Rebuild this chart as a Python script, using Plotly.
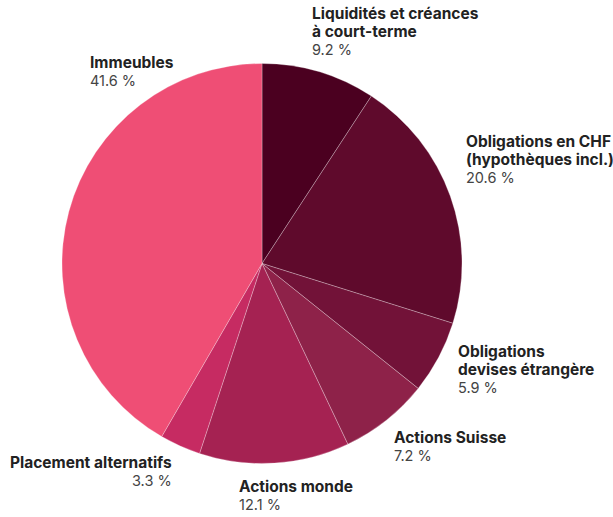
import plotly.graph_objects as go

categories = ["Liquidités et créances<br>à court-terme", "Obligations en CHF<br>(hypothèques incl.)",
              "Obligations<br>devises étrangère", "Actions Suisse", "Actions monde",
              "Placement alternatifs", "Immeubles"]
values = [9.2, 20.6, 5.9, 7.2, 12.1, 3.3, 41.6]
colors = ["#4b0020", "#5f0a2c", "#721238", "#8e2249", "#a52252", "#c62b62", "#ef4e75"]

W, H = 613, 517
# label anchors in pixels: (x of text edge, baseline of first line, alignment)
label_pos = [(311, 19, "left"), (465, 147, "left"), (457, 357, "left"), (393, 443, "left"),
             (238, 492, "left"), (172.5, 468, "right"), (89.5, 68, "left")]
BASE_TO_TOP = 17   # distance from annotation top to first baseline
XPAD = 1.5


def px2paper(x, y):
    return x / W, 1 - y / H


x0, y0 = px2paper(61.5, 463.5)
x1, y1 = px2paper(462.5, 63.5)

fig = go.Figure(go.Pie(
    labels=[c.replace("<br>", " ") for c in categories], values=values, sort=False,
    direction="clockwise", rotation=0, textinfo="none", hoverinfo="label+value",
    marker=dict(colors=colors, line=dict(color="rgba(255,255,255,0.45)", width=0.6)),
    domain=dict(x=[x0, x1], y=[y0, y1]),
    showlegend=False,
))

for cat, val, (px, py, al) in zip(categories, values, label_pos):
    ax, ay = px2paper(px - XPAD if al == "left" else px + XPAD, py - BASE_TO_TOP)
    lines = cat.split("<br>")
    bold = "<br>".join(f"<span style='font-size:15.5px'><b>{l}</b></span>" for l in lines)
    fig.add_annotation(
        x=ax, y=ay, xref="paper", yref="paper",
        xanchor=al, yanchor="top", align=al, showarrow=False,
        text=f"{bold}<br><span style='color:#444444;font-size:14.5px'>{val} %</span>",
        font=dict(family="Inter", size=14, color="#222222"),
    )

fig.update_layout(width=W, height=H, margin=dict(l=0, r=0, t=0, b=0),
                  paper_bgcolor="white", plot_bgcolor="white")
fig.write_html("out.html", config={"displayModeBar": False},
               post_script="document.body.style.margin='0';")
